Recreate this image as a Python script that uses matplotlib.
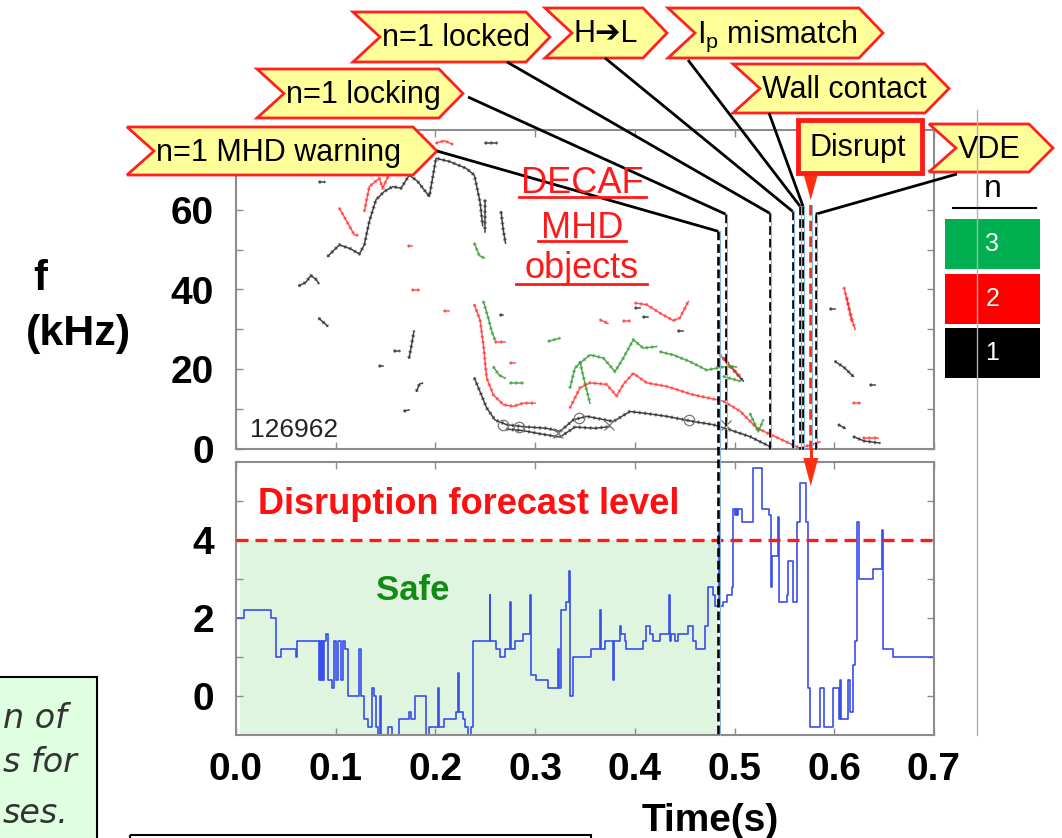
import numpy as np
import matplotlib.pyplot as plt
from matplotlib.patches import Polygon, Rectangle

plt.rcParams['font.family'] = ['Liberation Sans', 'DejaVu Sans']
plt.rcParams['mathtext.fontset'] = 'custom'
plt.rcParams['mathtext.rm'] = 'Liberation Sans'

# --- disruption forecast signal (step trace, lower panel) ---
forecast_t = [0.000, 0.0084, 0.0351, 0.0401, 0.0451, 0.0602, 0.0612, 0.0836, 0.0843, 0.0853,
              0.0863, 0.0876, 0.0886, 0.0903, 0.0919, 0.0963, 0.0986, 0.1003, 0.1020, 0.1053,
              0.1070, 0.1097, 0.1120, 0.1237, 0.1257, 0.1287, 0.1320, 0.1364, 0.1388, 0.1404,
              0.1421, 0.1444, 0.1458, 0.1521, 0.1565, 0.1638, 0.1739, 0.1755, 0.1799, 0.1906,
              0.1939, 0.2023, 0.2039, 0.2090, 0.2207, 0.2223, 0.2240, 0.2273, 0.2300, 0.2324,
              0.2357, 0.2380, 0.2544, 0.2551, 0.2611, 0.2644, 0.2694, 0.2744, 0.2754, 0.2794,
              0.2878, 0.2945, 0.2955, 0.3012, 0.3129, 0.3229, 0.3243, 0.3263, 0.3313, 0.3340,
              0.3354, 0.3380, 0.3564, 0.3647, 0.3657, 0.3697, 0.3778, 0.3791, 0.3848, 0.3864,
              0.3898, 0.3914, 0.4082, 0.4115, 0.4149, 0.4182, 0.4249, 0.4340, 0.4350, 0.4366,
              0.4400, 0.4433, 0.4534, 0.4584, 0.4617, 0.4701, 0.4734, 0.4784, 0.4807, 0.4841,
              0.4854, 0.4887, 0.4921, 0.4971, 0.4988, 0.5004, 0.5014, 0.5028, 0.5038, 0.5071,
              0.5189, 0.5272, 0.5349, 0.5365, 0.5375, 0.5432, 0.5442, 0.5522, 0.5539, 0.5583,
              0.5623, 0.5656, 0.5716, 0.5739, 0.5757, 0.5857, 0.5897, 0.5991, 0.6051, 0.6058,
              0.6068, 0.6141, 0.6158, 0.6185, 0.6208, 0.6225, 0.6252, 0.6392, 0.6476, 0.6492,
              0.6586, 0.7000]
forecast_v = [2.0, 2.2, 2.0, 1.0, 1.2, 1.0, 1.4, 0.4, 1.4, 0.4,
              1.4, 0.4, 1.4, 1.6, 0.4, 0.2, 1.4, 0.4, 1.4, 0.4,
              1.4, 1.2, 0.0, 1.2, 0.0, -0.6, -0.8, 0.2, 0.0, -0.8,
              -1.0, 0.0, -1.0, -0.8, -1.0, -0.6, -0.4, -0.6, 0.0, -1.0,
              -0.8, 0.2, -0.8, -0.6, -0.4, 0.6, -0.4, -0.6, -0.8, -1.0,
              -0.8, 1.4, 2.6, 1.4, 1.2, 1.0, 1.2, 2.4, 1.2, 1.4,
              1.6, 2.6, 0.55, 0.4, 0.2, 1.2, 0.2, 2.2, 2.4, 3.2,
              0.0, 1.0, 1.2, 2.2, 1.2, 1.4, 0.4, 1.4, 1.8, 1.6,
              1.4, 1.2, 1.4, 1.8, 1.6, 1.4, 1.6, 2.6, 1.4, 1.6,
              1.4, 1.6, 1.8, 1.4, 1.2, 1.8, 2.8, 2.6, 2.3, 4.2,
              2.3, 2.4, 2.6, 2.8, 4.8, 4.65, 4.8, 4.65, 4.8, 4.45,
              5.85, 4.8, 4.65, 2.8, 3.6, 4.6, 2.4, 2.6, 3.45, 2.4,
              4.45, 5.45, 4.45, 0.2, -0.8, 0.2, -0.8, 0.2, -0.6, 0.4,
              -0.6, 0.4, -0.4, 0.8, 1.4, 4.45, 3.0, 3.25, 4.25, 1.2,
              1.0, 1.0]
forecast_level = 4.0

# --- DECAF MHD objects (upper panel), one (t, f) list per segment ---
n1_segments = [
    ([0.092, 0.1036, 0.115, 0.1237, 0.1287, 0.1337, 0.1404, 0.1488, 0.1571, 0.1655, 0.1738,
      0.1822, 0.1939, 0.2006, 0.214, 0.2307, 0.239, 0.2447, 0.2474],
     [48.3, 51.2, 50.2, 48.9, 51.2, 57.1, 62.5, 64.6, 65.8, 65.4, 68.7,
      67.1, 63.3, 72.9, 72.1, 70.4, 68.7, 62.0, 56.0]),
    ([0.2495, 0.2495], [62.4, 54.4]),
    ([0.2658, 0.2680, 0.2703], [59.5, 55.0, 51.6]),
    ([0.063, 0.070, 0.075, 0.080, 0.083], [40.9, 41.8, 43.5, 42.6, 41.5]),
    ([0.083, 0.092], [32.8, 30.8]),
    ([0.083, 0.089], [66.9, 66.9]),
    ([0.143, 0.147], [20.8, 20.8]),
    ([0.158, 0.164], [24.6, 24.6]),
    ([0.1735, 0.1760, 0.1785], [22.8, 26.0, 29.6]),
    ([0.181, 0.184, 0.187], [14.5, 16.3, 16.5]),
    ([0.1685, 0.1735], [9.5, 9.8]),
    ([0.2497, 0.2614], [76.7, 76.7]),
    ([0.2647, 0.2681], [33.7, 33.7]),
    ([0.239, 0.2447, 0.2514, 0.2597, 0.2714, 0.2881, 0.3115, 0.3249, 0.3383, 0.3516,
      0.3784, 0.395, 0.4118, 0.4318, 0.4585, 0.4787, 0.4954, 0.5155, 0.5355],
     [17.8, 14.4, 10.3, 7.3, 6.1, 5.6, 5.2, 4.4, 7.3, 8.2,
      6.9, 9.4, 8.9, 8.2, 6.9, 6.1, 4.8, 3.1, 0.6]),
    ([0.2714, 0.2881, 0.3050, 0.3249, 0.3400, 0.3600, 0.3750],
     [5.0, 4.6, 3.8, 3.0, 5.5, 5.2, 5.6]),
    ([0.4001, 0.4052], [35.3, 35.3]),
    ([0.4085, 0.4135], [33.0, 33.0]),
    ([0.4436, 0.4486], [29.6, 29.6]),
    ([0.4887, 0.4990, 0.5088], [22.8, 19.8, 17.0]),
    ([0.5957, 0.6007], [35.0, 35.0]),
    ([0.6007, 0.6100, 0.6191], [22.0, 20.4, 18.2]),
    ([0.6358, 0.6408], [16.1, 16.1]),
    ([0.6041, 0.6108], [6.1, 5.2]),
    ([0.6191, 0.6300, 0.6458], [3.1, 2.0, 1.5]),
]
n2_segments = [
    ([0.1036, 0.1187, 0.1220], [60.4, 53.7, 53.6]),
    ([0.1287, 0.1337, 0.1437, 0.1471, 0.1571, 0.1738, 0.1872],
     [59.6, 65.8, 67.9, 65.4, 70.9, 76.3, 78.8]),
    ([0.2006, 0.2090, 0.2173], [76.7, 77.3, 76.4]),
    ([0.172, 0.177], [50.8, 50.8]),
    ([0.177, 0.184], [39.9, 39.9]),
    ([0.209, 0.214], [34.5, 34.5]),
    ([0.239, 0.2447, 0.2481, 0.2514, 0.258, 0.2681, 0.2781, 0.2881, 0.2998],
     [36.2, 32.4, 26.1, 17.8, 13.6, 11.1, 10.7, 11.5, 11.5]),
    ([0.2597, 0.2698], [26.9, 26.9]),
    ([0.2748, 0.2798], [21.5, 21.5]),
    ([0.3349, 0.3449, 0.355, 0.3717, 0.3817, 0.3884, 0.3984, 0.4118, 0.4318, 0.4585,
      0.4887, 0.5055, 0.5222, 0.5355, 0.5656, 0.5756, 0.5857],
     [10.3, 15.3, 16.6, 16.2, 13.3, 16.2, 19.0, 16.6, 15.7, 13.6,
      12.0, 9.5, 5.3, 3.7, 0.2, 1.0, 1.8]),
    ([0.4001, 0.4118, 0.4252, 0.4385, 0.4452, 0.4536], [36.6, 36.2, 34.1, 32.2, 32.9, 37.0]),
    ([0.365, 0.373], [32.4, 31.5]),
    ([0.3885, 0.3952], [32.2, 32.2]),
    ([0.4854, 0.4950, 0.5055], [23.6, 21.0, 18.2]),
    ([0.6098, 0.6150, 0.6208], [40.5, 35.0, 30.0]),
    ([0.6125, 0.6175], [38.0, 32.0]),
    ([0.6191, 0.6258], [11.5, 11.5]),
    ([0.629, 0.644], [2.8, 2.8]),
]
n3_segments = [
    ([0.239, 0.244, 0.249], [51.6, 48.5, 47.9]),
    ([0.2481, 0.2531, 0.2564, 0.2597], [37.0, 32.8, 29.5, 27.4]),
    ([0.2581, 0.2640, 0.2698], [20.6, 18.5, 17.8]),
    ([0.2748, 0.2881], [16.6, 16.6]),
    ([0.3132, 0.3249], [27.0, 27.8]),
    ([0.3349, 0.3399, 0.3449, 0.355, 0.3684, 0.3801, 0.3884, 0.3984, 0.4085, 0.4219],
     [15.3, 20.3, 21.5, 23.6, 22.8, 19.4, 22.8, 27.4, 25.3, 25.7]),
    ([0.3449, 0.3500, 0.355], [21.9, 16.5, 11.5]),
    ([0.4252, 0.4385, 0.4553, 0.4720, 0.4887, 0.502], [24.4, 23.6, 21.9, 19.8, 20.6, 20.6]),
    ([0.4887, 0.5055], [18.2, 17.0]),
    ([0.5155, 0.5238, 0.5288], [8.9, 4.3, 7.3]),
]
circle_t = [0.268, 0.284, 0.344, 0.454]
circle_f = [6.0, 5.6, 7.8, 7.3]
cross_t = [0.323, 0.374, 0.491]
cross_f = [4.0, 6.0, 6.0]

# --- events (time in s) and the height (kHz) where each callout meets its line ---
event_labels = ['n=1 MHD warning', 'n=1 locking', 'n=1 locked', 'H\u2794L',
                r'I$_{\rm p}$ mismatch', 'Wall contact', 'Disrupt', 'VDE']
event_times = [0.4836, 0.4910, 0.5354, 0.5582, 0.5656, 0.5686, 0.5764, 0.5814]
event_join_f = [54.6, 58.9, 59.1, 59.6, 60.9, 60.9, 61.2, 58.9]

mode_numbers = ['3', '2', '1']
mode_colors = ['#00b050', '#ff0000', '#000000']

W, H = 1062, 838
fig = plt.figure(figsize=(W / 100, H / 100), dpi=100)
ax_f = fig.add_axes([236 / W, 1 - 449 / H, 698 / W, 319 / H])
ax_p = fig.add_axes([236 / W, 1 - 735 / H, 698 / W, 273 / H])

xt = np.round(np.arange(0, 0.71, 0.1), 1)
for ax in (ax_f, ax_p):
    ax.set_xlim(0, 0.7)
    ax.set_xticks(xt)
    for s in ax.spines.values():
        s.set_color('#8c8c8c')
        s.set_linewidth(1.5)
    ax.tick_params(which='both', direction='in', length=5, width=1, color='#8c8c8c',
                   top=True, right=True, labelsize=28, pad=16)

# upper panel: MHD objects
ax_f.set_ylim(0, 80)
ax_f.set_yticks([0, 20, 40, 60])
ax_f.set_yticklabels(['0', '20', '40', '60'], fontweight='bold')
ax_f.set_yticks([10, 30, 50, 70], minor=True)
ax_f.tick_params(labelbottom=False)

for segs, c in ((n1_segments, '#222222'), (n2_segments, '#ff3030'), (n3_segments, '#2e9a2e')):
    for t, f in segs:
        ax_f.plot(t, f, color=c, lw=1.1, alpha=0.85)
        ax_f.plot(t, f, color=c, lw=2.6, ls=(0, (0.5, 1.0)), alpha=0.55)
ax_f.plot(circle_t, circle_f, 'o', mfc='none', mec='#777777', ms=7.5, mew=0.9)
ax_f.plot(cross_t, cross_f, 'x', color='#777777', ms=7.5, mew=0.9)

# lower panel: forecast
ax_p.set_ylim(-1, 6)
ax_p.set_yticks([0, 2, 4])
ax_p.set_yticklabels(['0', '2', '4'], fontweight='bold')
ax_p.set_yticks([1, 3, 5], minor=True)
ax_p.set_xticklabels([f'{v:.1f}' for v in xt], fontweight='bold')
ax_p.tick_params(axis='x', pad=12)
ax_p.fill_between([0.004, event_times[0]], -1, forecast_level, color='#e0f5e0', lw=0, zorder=0)
ax_p.plot(forecast_t, forecast_v, drawstyle='steps-post', color='#3a4ef0', lw=1.2, zorder=2)
ax_p.axhline(forecast_level, color='#ff1a1a', lw=2.4, dashes=(3.6, 2.1), zorder=3)

# overlay in figure pixels (y down) for callouts and annotations
ov = fig.add_axes([0, 0, 1, 1], zorder=5)
ov.set_xlim(0, W)
ov.set_ylim(H, 0)
ov.axis('off')


def px(ax, x, y):
    X, Y = ax.transData.transform((x, y))
    return X, H - Y


# callout boxes: (x0, x1, y0, y1) and where the leader line starts
boxes = [(127, 437, 127, 175), (257, 463, 69, 118), (353, 550, 12, 62), (545, 667, 8, 58),
         (668, 883, 8, 58), (733, 949, 64, 113), (798, 922, 120, 173), (929, 1053, 124, 172)]
leader_start = [(437, 151), (468, 97), (507, 62), (605, 58), (688, 60), (769, 113), None, (957, 174)]

for i, t in enumerate(event_times):
    x, ytop = px(ax_f, t, event_join_f[i])
    ybot = px(ax_p, t, -1)[1] if i == 0 else px(ax_f, t, 0)[1]
    if event_labels[i] == 'Disrupt':
        ov.plot([x, x], [ytop, ybot], color='#ff3010', lw=2.6, dashes=(2.9, 1.45))
        ov.plot([x + 1.5, x + 1.5], [ytop, ybot], color='#8ab4e0', lw=0.8)
        # arrows from the box and into the lower panel
        ov.add_patch(Polygon([(x - 7.5, 173), (x + 7.5, 173), (x, 200)], fc='#ff3010', ec='none'))
        y_p = px(ax_p, t, 6)[1]
        ov.plot([x, x], [ybot, y_p + 2], color='#ff3010', lw=2.2)
        ov.add_patch(Polygon([(x - 7.5, y_p - 4), (x + 7.5, y_p - 4), (x, y_p + 24)],
                             fc='#ff3010', ec='none'))
        continue
    lx, ly = leader_start[i]
    ov.plot([lx, x], [ly, ytop], color='k', lw=2.0, solid_capstyle='butt')
    ov.plot([x, x], [ytop, ybot], color='k', lw=1.9, dashes=(3.3, 1.5))
    ov.plot([x + 1.5, x + 1.5], [ytop, ybot], color='#8ab4e0', lw=0.8)

for lab, (x0, x1, y0, y1) in zip(event_labels, boxes):
    ym = (y0 + y1) / 2
    if lab == 'Disrupt':
        ov.add_patch(Rectangle((x0, y0), x1 - x0, y1 - y0, fc='#ffff99', ec='#ff1a1a',
                               lw=3.5, joinstyle='miter'))
        ov.text((x0 + x1) / 2 - 2, ym + 9.5, lab, ha='center', va='baseline', fontsize=22)
        continue
    pts = [(x0, y0), (x1 - 24, y0), (x1, ym), (x1 - 24, y1), (x0, y1), (x0 + 27, ym)]
    ov.add_patch(Polygon(pts, closed=True, fc='#ffff99', ec='#ff2020', lw=2, joinstyle='miter'))
    ov.text(x0 + 29, ym + 9.5, lab, ha='left', va='baseline', fontsize=22)

# DECAF MHD objects title
for word, base, (u0, u1, uy) in (('DECAF', 193, (519, 646, 197)),
                                 ('MHD', 238, (538, 626, 241)),
                                 ('objects', 278, (516, 647, 284))):
    ov.text(582, base, word, ha='center', va='baseline', fontsize=26, color='#ff1a1a')
    ov.plot([u0, u1], [uy, uy], color='#ff1a1a', lw=2)

ov.text(250, 437, '126962', fontsize=19, color='#222222', va='baseline')
ov.text(258, 514, 'Disruption forecast level', fontsize=26, fontweight='bold',
        color='#ff1010', va='baseline')
ov.text(376, 600, 'Safe', fontsize=25, fontweight='bold', color='#138a13', va='baseline')

# axis titles
ov.text(40, 290, 'f', fontsize=30, fontweight='bold', ha='center', va='baseline')
ov.text(78, 345, '(kHz)', fontsize=31, fontweight='bold', ha='center', va='baseline')
ov.text(710, 831, 'Time(s)', fontsize=28, fontweight='bold', ha='center', va='baseline')

# mode-number legend
ov.plot([977, 977], [110, 735], color='#b0b0b0', lw=1)
ov.text(993, 197, 'n', fontsize=23, ha='center', va='baseline')
ov.plot([953, 1036], [208, 208], color='k', lw=1.5)
for k, (num, c) in enumerate(zip(mode_numbers, mode_colors)):
    y0 = 219 + k * 54.5
    ov.add_patch(Rectangle((945, y0), 95, 50, fc=c, ec='none'))
    ov.text(992.5, y0 + 25, num, color='white', fontsize=18, ha='center', va='center')

# side box at the lower-left page edge
ov.add_patch(Rectangle((-5, 677), 102, 170, fc='#e0ffe0', ec='k', lw=1.5))
for s, base in (('n of', 728), ('s for', 772), ('ses.', 823)):
    ov.text(3, base, s, ha='left', va='baseline', fontsize=24, style='italic',
            family='DejaVu Sans', color='#333333')
ov.add_patch(Rectangle((130, 835), 461, 20, fc='none', ec='k', lw=1.5))

fig.savefig('out.png', dpi=100)
